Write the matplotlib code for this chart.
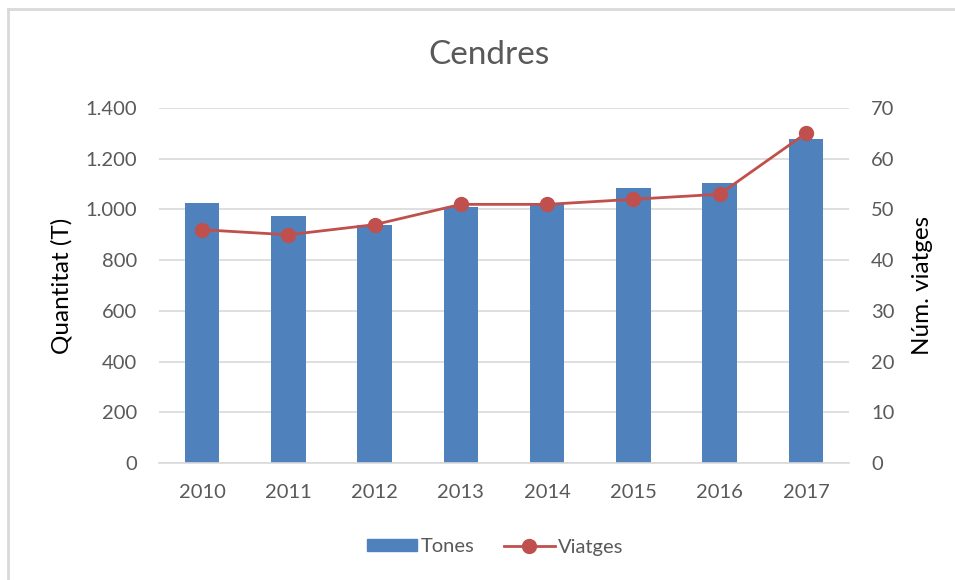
import matplotlib
matplotlib.use("Agg")
import matplotlib.pyplot as plt
from matplotlib.lines import Line2D
import numpy as np

years = ["2010", "2011", "2012", "2013", "2014", "2015", "2016", "2017"]
tones = [1024, 975, 940, 1011, 1021, 1086, 1103, 1279]
viatges = [46, 45, 47, 51, 51, 52, 53, 65]
left_ticks = [0, 200, 400, 600, 800, 1000, 1200, 1400]
left_labels = ["0", "200", "400", "600", "800", "1.000", "1.200", "1.400"]
right_ticks = [0, 10, 20, 30, 40, 50, 60, 70]

plt.rcParams['font.family'] = ['Lato', 'DejaVu Sans']
grey = "#595959"
blue = "#4F81BD"
red = "#C0504D"

fig = plt.figure(figsize=(9.55, 5.8), dpi=100)
ax = fig.add_axes([159/955, 117/580, 690/955, 355/580])
x = np.arange(len(years))
ax.bar(x, tones, width=0.4, color=blue, zorder=2, label="Tones")
ax.set_xlim(-0.5, len(years) - 0.5)
ax.set_ylim(0, 1400)
ax.set_yticks(left_ticks)
ax.set_yticklabels(left_labels)
ax.set_xticks(x)
ax.set_xticklabels(years)
ax.grid(axis='y', color="#d9d9d9", linewidth=1.2, zorder=0)
for s in ["top", "left", "right"]:
    ax.spines[s].set_visible(False)
ax.spines["bottom"].set_color("#d9d9d9")
ax.spines["bottom"].set_linewidth(1.2)
ax.tick_params(axis='both', length=0, labelsize=14.5, colors=grey)
ax.tick_params(axis='y', pad=16)
ax.tick_params(axis='x', pad=15)
ax.set_ylabel("Quantitat (T)", fontsize=17.5, color="black")
ax.yaxis.set_label_coords(-0.126, 0.5)

ax2 = ax.twinx()
ax2.plot(x, viatges, color=red, linewidth=2, marker='o', markersize=10, zorder=3, label="Viatges")
ax2.set_ylim(0, 70)
ax2.set_yticks(right_ticks)
for s in ["top", "left", "right", "bottom"]:
    ax2.spines[s].set_visible(False)
ax2.tick_params(axis='y', length=0, labelsize=14.5, colors=grey, pad=16)
ax2.set_ylabel("Núm. viatges", fontsize=17.5, color="black")
ax2.yaxis.set_label_coords(1.091, 0.5)

fig.text(489/955, 1 - 55/580, "Cendres", ha='center', va='center', fontsize=24, color=grey)

handles = [plt.Rectangle((0, 0), 1, 1, color=blue),
           Line2D([0], [0], color=red, linewidth=2, marker='o', markersize=10)]
fig.legend(handles, ["Tones", "Viatges"], loc='center', bbox_to_anchor=(495/955, 1 - 547/580),
           ncol=2, frameon=False, fontsize=14.5, labelcolor=grey, handlelength=2.5,
           handleheight=0.55, columnspacing=1.5, handletextpad=0.15)

# chart border (left and top edges)
fig.add_artist(Line2D([8/955, 8/955], [0, 1 - 9/580], transform=fig.transFigure, color="#d9d9d9", linewidth=2))
fig.add_artist(Line2D([8/955, 1], [1 - 9/580, 1 - 9/580], transform=fig.transFigure, color="#d9d9d9", linewidth=2))

fig.savefig("out.png", dpi=100, facecolor="white")
